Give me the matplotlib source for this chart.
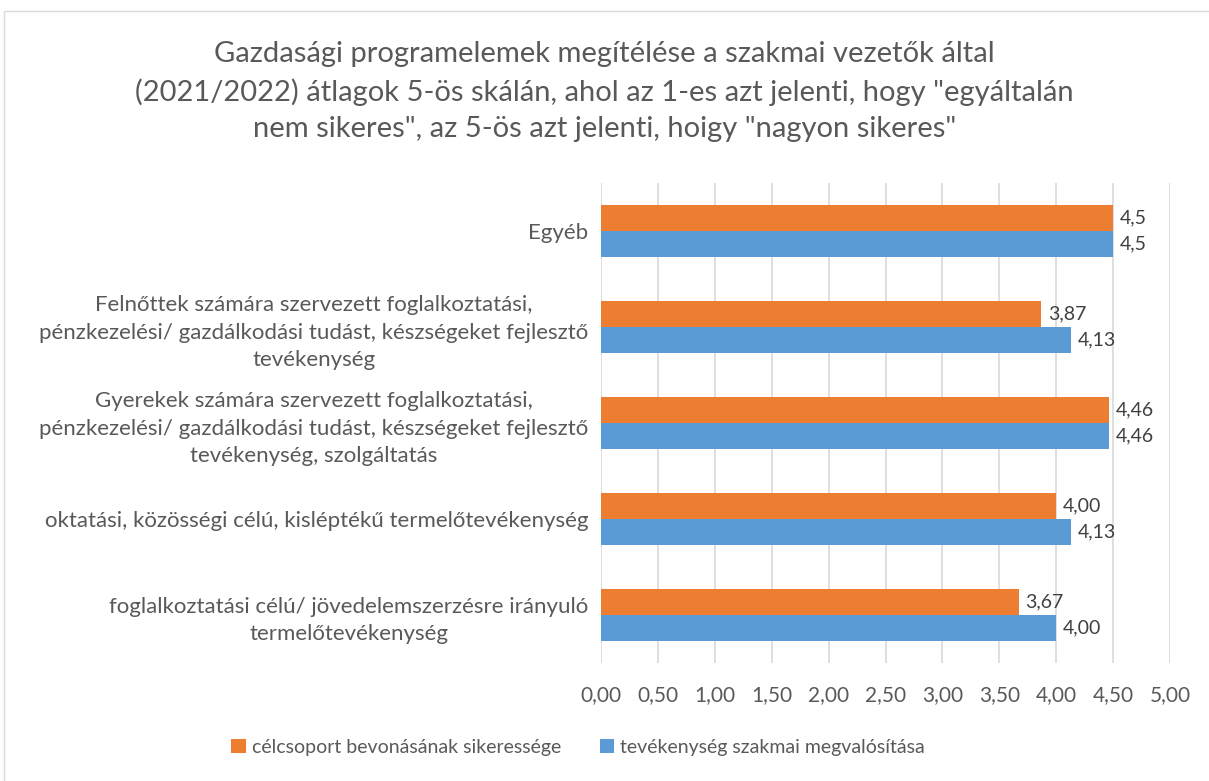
import matplotlib.pyplot as plt
import numpy as np
from matplotlib.patches import Rectangle

# Adatok
kategoriak = [
    'foglalkoztatási célú/ jövedelemszerzésre irányuló\ntermelőtevékenység',
    'oktatási, közösségi célú, kisléptékű termelőtevékenység',
    'Gyerekek számára szervezett foglalkoztatási,\npénzkezelési/ gazdálkodási tudást, készségeket fejlesztő\ntevékenység, szolgáltatás',
    'Felnőttek számára szervezett foglalkoztatási,\npénzkezelési/ gazdálkodási tudást, készségeket fejlesztő\ntevékenység',
    'Egyéb',
]
celcsoport = [3.67, 4.00, 4.46, 3.87, 4.5]
szakmai = [4.00, 4.13, 4.46, 4.13, 4.5]
celcsoport_cimke = ['3,67', '4,00', '4,46', '3,87', '4,5']
szakmai_cimke = ['4,00', '4,13', '4,46', '4,13', '4,5']
xtick_ertekek = [0, 0.5, 1, 1.5, 2, 2.5, 3, 3.5, 4, 4.5, 5]

plt.rcParams['font.family'] = ['Lato', 'DejaVu Sans']
szurke = '#595959'
narancs = '#ED7D31'
kek = '#5B9BD5'

fig = plt.figure(figsize=(12.09, 7.81), dpi=100)
W, H = 1209, 781
ax = fig.add_axes([601 / W, 1 - 663 / H, (1170 - 601) / W, (663 - 183) / H])

y = np.arange(len(kategoriak))
h = 0.27
ax.barh(y + h / 2, celcsoport, height=h, color=narancs, label='célcsoport bevonásának sikeressége', zorder=3)
ax.barh(y - h / 2, szakmai, height=h, color=kek, label='tevékenység szakmai megvalósítása', zorder=3)

for i in range(len(kategoriak)):
    ax.text(celcsoport[i] + 0.06, y[i] + h / 2, celcsoport_cimke[i], va='center', ha='left',
            fontsize=14, color='#404040')
    ax.text(szakmai[i] + 0.06, y[i] - h / 2, szakmai_cimke[i], va='center', ha='left',
            fontsize=14, color='#404040')

ax.set_xlim(0, 5)
ax.set_ylim(-0.5, len(kategoriak) - 0.5)
ax.set_xticks(xtick_ertekek)
ax.set_xticklabels([f'{v:.2f}'.replace('.', ',') for v in xtick_ertekek], fontsize=15, color=szurke)
ax.set_yticks(y)
ax.set_yticklabels(kategoriak, fontsize=16, color=szurke, linespacing=1.45)
for lbl in ax.get_yticklabels():
    lbl.set_multialignment('center')
ax.tick_params(axis='y', length=0, pad=9)
ax.tick_params(axis='x', length=0, pad=16)
ax.xaxis.grid(True, color='#D9D9D9', linewidth=1.2, zorder=0)
for s in ax.spines.values():
    s.set_visible(False)

fig.text(0.5, 1 - 41 / H,
         'Gazdasági programelemek megítélése a szakmai vezetők által\n'
         '(2021/2022) átlagok 5-ös skálán, ahol az 1-es azt jelenti, hogy "egyáltalán\n'
         'nem sikeres", az 5-ös azt jelenti, hoigy "nagyon sikeres"',
         ha='center', va='top', fontsize=21, color=szurke, linespacing=1.5)

fig.legend(loc='center', bbox_to_anchor=(578 / W, 1 - 747 / H), ncol=2, frameon=False,
           fontsize=14, labelcolor=szurke, handlelength=0.75, handleheight=0.75,
           handletextpad=0.3, columnspacing=2.0)

fig.patches.append(Rectangle((4 / W, -0.1), 1.2, 1 - 11 / H + 0.1, transform=fig.transFigure,
                             fill=False, edgecolor='#D9D9D9', linewidth=1))

fig.savefig('out.png', dpi=100)
